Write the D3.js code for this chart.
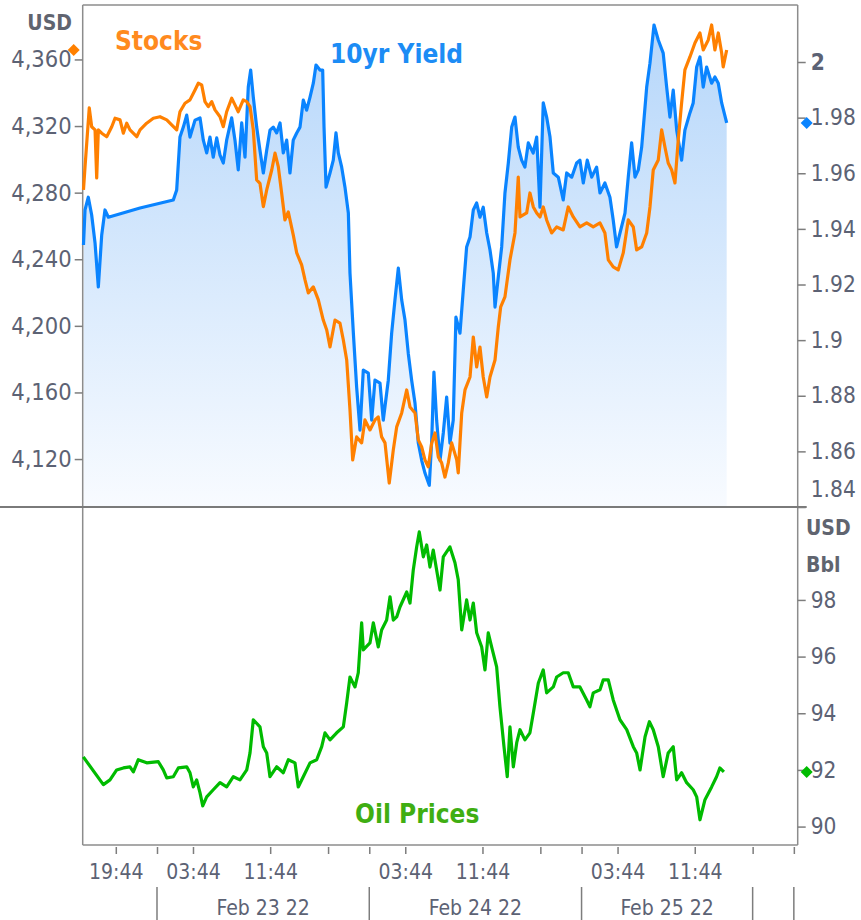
<!DOCTYPE html>
<html>
<head>
<meta charset="utf-8">
<script src="https://cdn.jsdelivr.net/npm/d3@7"></script>
<style>
  body { margin: 0; background: #fff; }
  svg text { font-family: "DejaVu Sans Condensed", "DejaVu Sans", sans-serif; font-stretch: condensed; }
</style>
</head>
<body>
<div id="chart"></div>
<script>
// time is in session hours since Feb 22 00:00 (the daily 16:00-18:00 break is left out)
var stockSeries = [[14.38,4281.6],[14.54,4295.4],[14.98,4330.9],[15.23,4319.6],[15.58,4317.7],[15.75,4288.8],[15.92,4317.7],[16.27,4315.7],[16.79,4313.6],[17.31,4319.6],[17.65,4324.7],[18.17,4323.7],[18.51,4315.7],[18.86,4321.7],[19.2,4317.7],[19.9,4313.6],[20.24,4317.7],[20.93,4321.7],[21.62,4324.7],[22.31,4325.6],[23.01,4323.7],[23.52,4320.7],[24.04,4317.7],[24.38,4328.6],[24.9,4333.7],[25.42,4335.7],[25.94,4341.7],[26.28,4345.7],[26.63,4344.7],[26.97,4334.7],[27.32,4331.7],[27.67,4334.7],[28.01,4329.7],[28.53,4325.6],[28.87,4319.6],[29.22,4328.6],[29.74,4336.7],[30.08,4332.7],[30.42,4328.6],[30.94,4335.7],[31.3,4334.7],[31.64,4331.7],[31.98,4317.7],[32.33,4287.6],[32.67,4285.6],[33.02,4271.6],[33.37,4281.6],[33.89,4293.6],[34.23,4303.7],[34.57,4295.6],[34.92,4279.6],[35.26,4263.6],[35.61,4268.4],[36.12,4254.6],[36.48,4243.8],[36.99,4236.6],[37.34,4227.6],[37.68,4219.8],[38.2,4223.4],[38.72,4215.6],[39.23,4203.5],[39.59,4197.5],[39.93,4187.3],[40.45,4203.5],[40.96,4201.7],[41.31,4191.5],[41.66,4179.5],[42.0,4149.5],[42.28,4119.5],[42.69,4133.3],[43.21,4129.7],[43.55,4143.5],[44.07,4137.5],[44.59,4143.5],[44.93,4145.3],[45.28,4133.3],[45.63,4129.7],[46.07,4105.6],[46.49,4125.5],[46.84,4139.3],[47.36,4147.7],[47.88,4161.5],[48.22,4151.3],[48.74,4147.7],[49.08,4131.5],[49.43,4127.3],[49.77,4119.5],[50.11,4115.3],[50.47,4129.7],[50.81,4135.7],[51.15,4121.3],[51.5,4117.7],[51.84,4109.2],[52.19,4117.7],[52.54,4129.7],[53.06,4119.5],[53.22,4111.7],[53.58,4147.7],[53.92,4161.5],[54.44,4169.3],[54.78,4193.3],[55.13,4175.3],[55.47,4187.3],[55.81,4169.3],[56.17,4157.3],[56.51,4169.3],[57.03,4179.5],[57.37,4199.3],[57.62,4211.4],[58.06,4217.4],[58.58,4239.6],[59.1,4255.8],[59.44,4289.4],[59.62,4265.4],[60.31,4267.8],[60.65,4279.8],[61.0,4271.4],[61.35,4267.8],[61.69,4265.4],[62.03,4271.4],[62.38,4263.6],[62.9,4255.8],[63.42,4259.4],[64.1,4257.6],[64.62,4271.4],[65.14,4265.4],[65.83,4259.4],[66.53,4261.8],[67.21,4259.4],[67.91,4261.8],[68.42,4255.8],[68.77,4239.6],[69.28,4235.4],[69.8,4233.6],[70.32,4243.8],[70.84,4263.6],[71.36,4259.4],[71.71,4245.6],[72.23,4247.4],[72.75,4255.8],[73.09,4271.4],[73.43,4293.6],[73.95,4299.6],[74.3,4317.7],[74.64,4307.4],[74.98,4297.8],[75.34,4293.6],[75.68,4285.8],[76.02,4311.7],[76.37,4333.9],[76.71,4353.7],[77.23,4361.5],[77.75,4369.9],[78.27,4375.9],[78.61,4365.7],[79.13,4371.7],[79.48,4380.7],[79.82,4365.7],[80.17,4375.9],[80.52,4363.9],[80.68,4355.5],[81.04,4365.7]];

var yieldSeries = [[14.38,1.9342],[14.54,1.9468],[14.88,1.9514],[15.23,1.945],[15.58,1.9349],[15.92,1.9191],[16.27,1.9378],[16.61,1.9468],[16.96,1.9442],[20.24,1.9475],[23.69,1.9504],[24.04,1.954],[24.38,1.973],[24.73,1.9766],[25.08,1.9809],[25.42,1.973],[25.94,1.9791],[26.46,1.9799],[26.8,1.9719],[27.15,1.9673],[27.49,1.973],[27.83,1.9658],[28.19,1.9727],[28.53,1.9665],[28.87,1.9637],[29.22,1.9719],[29.74,1.9799],[30.08,1.9719],[30.42,1.9612],[30.78,1.9781],[31.12,1.9658],[31.46,1.991],[31.71,1.9971],[31.98,1.9874],[32.33,1.9766],[32.67,1.9683],[33.02,1.9601],[33.37,1.9683],[33.71,1.9755],[34.05,1.9766],[34.4,1.9745],[34.75,1.9781],[35.09,1.9673],[35.44,1.9719],[35.78,1.9601],[36.12,1.9719],[36.48,1.9745],[36.82,1.9766],[37.16,1.9863],[37.51,1.9827],[37.86,1.9874],[38.2,1.9924],[38.48,1.9989],[38.89,1.9971],[39.17,1.9971],[39.31,1.9766],[39.52,1.955],[39.93,1.9601],[40.27,1.9647],[40.55,1.9745],[40.79,1.9673],[41.14,1.9622],[41.48,1.955],[41.83,1.9457],[42.0,1.9241],[42.35,1.9025],[42.69,1.8831],[43.04,1.8676],[43.38,1.8892],[43.9,1.8881],[44.25,1.8712],[44.59,1.8856],[45.11,1.8845],[45.45,1.8712],[45.97,1.8856],[46.32,1.9025],[46.66,1.9144],[47.01,1.9259],[47.36,1.9144],[47.7,1.9072],[48.04,1.8953],[48.39,1.8856],[48.74,1.8773],[49.08,1.863],[49.43,1.8568],[49.77,1.8522],[50.22,1.8478],[50.47,1.864],[50.7,1.8885],[50.98,1.8712],[51.33,1.8568],[51.67,1.8666],[52.02,1.8795],[52.36,1.863],[52.7,1.8712],[52.98,1.9083],[53.4,1.9025],[53.74,1.918],[54.09,1.9335],[54.44,1.9371],[54.78,1.9468],[55.13,1.9493],[55.47,1.9442],[55.81,1.9478],[56.17,1.9385],[56.51,1.9324],[56.85,1.9241],[57.03,1.9119],[57.37,1.9227],[57.72,1.9335],[58.06,1.9529],[58.41,1.9637],[58.76,1.9766],[59.1,1.9802],[59.44,1.9694],[59.79,1.9647],[60.13,1.9622],[60.48,1.9709],[60.99,1.9673],[61.35,1.973],[61.69,1.9478],[62.03,1.9853],[62.38,1.9802],[62.73,1.973],[63.07,1.9601],[63.59,1.9586],[64.1,1.9504],[64.46,1.9601],[64.98,1.9586],[65.49,1.9637],[65.83,1.9647],[66.18,1.9565],[66.59,1.9647],[67.05,1.9586],[67.56,1.9622],[67.91,1.9529],[68.42,1.9565],[68.94,1.9514],[69.28,1.9432],[69.63,1.9335],[69.98,1.9385],[70.5,1.9457],[70.84,1.9586],[71.19,1.9709],[71.54,1.9586],[71.88,1.9612],[72.23,1.9694],[72.75,1.991],[73.09,1.9996],[73.51,2.0133],[73.95,2.0079],[74.46,2.0032],[74.82,1.991],[75.16,1.9802],[75.5,1.9899],[75.86,1.9755],[76.37,1.9647],[76.71,1.9755],[77.23,1.9817],[77.57,1.9853],[77.93,1.9982],[78.27,2.0018],[78.61,1.991],[78.96,1.9982],[79.48,1.9924],[79.82,1.9946],[80.17,1.9924],[80.52,1.9853],[81.04,1.9781]];

var oilSeries = [[14.36,92.46],[16.44,91.48],[17.13,91.65],[17.82,92.0],[18.51,92.07],[19.2,92.11],[19.55,91.93],[20.06,92.36],[20.93,92.25],[22.14,92.29],[22.65,92.0],[23.01,91.72],[23.69,91.76],[24.21,92.07],[25.08,92.11],[25.42,91.9],[25.76,91.4],[26.11,91.65],[26.46,91.19],[26.74,90.73],[27.15,91.05],[27.83,91.3],[28.53,91.55],[29.22,91.4],[29.91,91.76],[30.6,91.65],[31.3,92.0],[31.64,92.6],[31.98,93.77],[32.67,93.52],[33.02,92.82],[33.37,92.6],[33.71,91.76],[34.4,92.11],[35.09,91.9],[35.61,92.36],[36.3,92.25],[36.64,91.4],[37.16,91.76],[37.86,92.25],[38.55,92.36],[39.07,92.82],[39.41,93.31],[39.93,93.06],[40.62,93.31],[41.31,93.52],[41.66,94.37],[42.0,95.28],[42.52,94.93],[42.86,95.43],[43.04,96.34],[43.21,97.19],[43.38,96.24],[44.07,96.48],[44.42,97.19],[44.93,96.34],[45.28,96.94],[45.8,97.29],[46.15,98.11],[46.49,97.29],[46.84,97.4],[47.18,97.75],[47.88,98.28],[48.22,97.89],[48.56,99.06],[48.91,99.87],[49.18,100.4],[49.6,99.52],[49.95,99.94],[50.29,99.16],[50.63,99.76],[50.98,99.06],[51.33,98.35],[51.67,99.52],[52.36,99.87],[52.88,99.31],[53.22,98.71],[53.58,96.94],[54.09,98.0],[54.44,97.29],[54.78,97.89],[55.13,96.84],[55.65,96.34],[55.99,95.53],[56.33,96.84],[56.68,96.34],[57.2,95.64],[57.54,94.23],[57.96,92.82],[58.3,91.76],[58.58,93.52],[58.93,92.11],[59.28,92.96],[59.62,93.42],[60.13,93.06],[60.65,93.31],[61.0,94.01],[61.52,95.07],[62.03,95.53],[62.38,94.72],[63.07,94.93],[63.42,95.28],[64.1,95.43],[64.62,95.43],[65.14,94.93],[65.83,94.93],[66.53,94.47],[66.87,94.23],[67.21,94.72],[67.91,94.83],[68.25,95.18],[68.77,95.18],[69.28,94.47],[69.98,93.77],[70.68,93.42],[71.36,92.82],[71.71,92.6],[72.06,92.0],[72.58,93.17],[73.03,93.7],[73.43,93.42],[73.95,92.82],[74.46,91.76],[74.98,92.6],[75.5,92.82],[75.86,91.65],[76.37,91.9],[76.89,91.55],[77.57,91.3],[77.93,91.05],[78.27,90.24],[78.79,90.95],[79.48,91.4],[79.99,91.76],[80.33,92.07],[80.75,91.93]];

var stockTicks = [4120, 4160, 4200, 4240, 4280, 4320, 4360];
var yieldTicks = [1.84, 1.86, 1.88, 1.9, 1.92, 1.94, 1.96, 1.98, 2];
var oilTicks = [90, 92, 94, 96, 98];
var timeTicks = [17.73, 22, 25.73, 33.73, 39.73, 44, 47.73, 55.73, 61.73, 66, 69.73, 77.73, 83.73, 88];
var timeTickLabels = ["19:44", "", "03:44", "11:44", "", "", "03:44", "11:44", "", "", "03:44", "11:44", "", ""];
var dayBreaks = [22, 44, 66, 83.73, 88];
var dayLabels = ["Feb 23 22", "Feb 24 22", "Feb 25 22"];

var width = 861, height = 920;
var plotL = 82.7, plotR = 797.7, plotT = 5, plotMid = 507, plotB = 845;

var svg = d3.select("#chart").append("svg")
  .attr("width", width)
  .attr("height", height);

var x = d3.scaleLinear().domain([14.3, 88.4]).range([plotL, plotR]);
var yStock = d3.scaleLinear().domain([4091.2, 4392.7]).range([plotMid, plotT]);
var yYield = d3.scaleLinear().domain([1.84, 2.0205]).range([plotMid, plotT]);
var yOil = d3.scaleLinear().domain([89.35, 101.28]).range([plotB, plotMid]);

// gradient under the yield line
var grad = svg.append("defs").append("linearGradient")
  .attr("id", "yieldFill")
  .attr("gradientUnits", "userSpaceOnUse")
  .attr("x1", 0).attr("x2", 0)
  .attr("y1", plotT).attr("y2", plotMid);
grad.append("stop").attr("offset", 0).attr("stop-color", "#b3d5fa");
grad.append("stop").attr("offset", 1).attr("stop-color", "#f8fbff");

svg.append("path")
  .datum(yieldSeries)
  .attr("fill", "url(#yieldFill)")
  .attr("d", d3.area().x(function(d){ return x(d[0]); }).y0(plotMid).y1(function(d){ return yYield(d[1]); }));

// frame
var frameColor = "#8c8c8c";
svg.append("line").attr("x1", plotL).attr("x2", plotR).attr("y1", plotT).attr("y2", plotT)
  .attr("stroke", frameColor).attr("stroke-width", 1.5);
svg.append("line").attr("x1", plotL).attr("x2", plotL).attr("y1", plotT).attr("y2", plotB)
  .attr("stroke", frameColor).attr("stroke-width", 1.5);
svg.append("line").attr("x1", plotR).attr("x2", plotR).attr("y1", plotT).attr("y2", plotB)
  .attr("stroke", frameColor).attr("stroke-width", 1.5);
svg.append("line").attr("x1", plotL).attr("x2", plotR).attr("y1", plotB).attr("y2", plotB)
  .attr("stroke", frameColor).attr("stroke-width", 1.5);
svg.append("line").attr("x1", 0).attr("x2", plotR + 9).attr("y1", plotMid).attr("y2", plotMid)
  .attr("stroke", "#7a7a7a").attr("stroke-width", 2);

// lines
svg.append("path")
  .datum(yieldSeries)
  .attr("fill", "none")
  .attr("stroke", "#0a84ff")
  .attr("stroke-width", 3.2)
  .attr("stroke-linejoin", "round")
  .attr("d", d3.line().x(function(d){ return x(d[0]); }).y(function(d){ return yYield(d[1]); }));

svg.append("path")
  .datum(stockSeries)
  .attr("fill", "none")
  .attr("stroke", "#ff8000")
  .attr("stroke-width", 3.2)
  .attr("stroke-linejoin", "round")
  .attr("d", d3.line().x(function(d){ return x(d[0]); }).y(function(d){ return yStock(d[1]); }));

svg.append("path")
  .datum(oilSeries)
  .attr("fill", "none")
  .attr("stroke", "#00bb00")
  .attr("stroke-width", 3.2)
  .attr("stroke-linejoin", "round")
  .attr("d", d3.line().x(function(d){ return x(d[0]); }).y(function(d){ return yOil(d[1]); }));

// axes
var textColor = "#5c6274";
function styleAxis(g, size) {
  g.select(".domain").remove();
  g.selectAll(".tick line").attr("stroke", "#7d7d7d").attr("stroke-width", 1.5);
  g.selectAll(".tick text").attr("fill", textColor).style("font-size", size + "px");
}

svg.append("g")
  .attr("transform", "translate(" + plotL + ",0)")
  .call(d3.axisLeft(yStock).tickValues(stockTicks).tickSize(8).tickPadding(3).tickFormat(d3.format(",")))
  .call(styleAxis, 23.5);

var yieldAxis = svg.append("g")
  .attr("transform", "translate(" + plotR + ",0)")
  .call(d3.axisRight(yYield).tickValues(yieldTicks).tickSize(8).tickPadding(5).tickFormat(d3.format(".2~f")))
  .call(styleAxis, 22.5);
yieldAxis.selectAll(".tick text")
  .filter(function(d){ return d === 2; })
  .style("font-weight", "bold");
yieldAxis.selectAll(".tick text")
  .filter(function(d){ return d === 1.84; })
  .attr("dy", "-0.45em");

svg.append("g")
  .attr("transform", "translate(" + plotR + ",0)")
  .call(d3.axisRight(yOil).tickValues(oilTicks).tickSize(8).tickPadding(5))
  .call(styleAxis, 22.5);

svg.append("g")
  .attr("transform", "translate(0," + (plotB + 2) + ")")
  .call(d3.axisBottom(x).tickValues(timeTicks).tickSize(7).tickPadding(10)
    .tickFormat(function(d, i){ return timeTickLabels[i]; }))
  .call(styleAxis, 21);

// day row
svg.selectAll(".daybreak")
  .data(dayBreaks)
  .enter().append("line")
    .attr("class", "daybreak")
    .attr("x1", function(d){ return x(d); })
    .attr("x2", function(d){ return x(d); })
    .attr("y1", 887).attr("y2", height)
    .attr("stroke", "#7d7d7d").attr("stroke-width", 1.5);

svg.selectAll(".daylabel")
  .data(dayLabels)
  .enter().append("text")
    .attr("class", "daylabel")
    .attr("x", function(d, i){ return (x(dayBreaks[i]) + x(dayBreaks[i + 1])) / 2; })
    .attr("y", 915)
    .attr("text-anchor", "middle")
    .attr("fill", textColor)
    .style("font-size", "21px")
    .text(function(d){ return d; });

// last value markers
var diamond = d3.symbol().type(d3.symbolSquare).size(72);
var lastStock = stockSeries[stockSeries.length - 1][1];
var lastYield = yieldSeries[yieldSeries.length - 1][1];
var lastOil = oilSeries[oilSeries.length - 1][1];
svg.append("path").attr("d", diamond)
  .attr("transform", "translate(" + (plotL - 9) + "," + yStock(lastStock) + ") rotate(45)")
  .attr("fill", "#ff8000");
svg.append("path").attr("d", diamond)
  .attr("transform", "translate(" + (plotR + 9) + "," + yYield(lastYield) + ") rotate(45)")
  .attr("fill", "#0a84ff");
svg.append("path").attr("d", diamond)
  .attr("transform", "translate(" + (plotR + 9) + "," + yOil(lastOil) + ") rotate(45)")
  .attr("fill", "#00bb00");

// unit labels
svg.append("text").attr("x", 72).attr("y", 30).attr("text-anchor", "end")
  .attr("fill", "#60646f").style("font-size", "21px").style("font-weight", "bold").text("USD");
svg.append("text").attr("x", 806).attr("y", 535)
  .attr("fill", "#60646f").style("font-size", "21px").style("font-weight", "bold").text("USD");
svg.append("text").attr("x", 806).attr("y", 572)
  .attr("fill", "#60646f").style("font-size", "21px").style("font-weight", "bold").text("Bbl");

// series titles
svg.append("text").attr("x", 115).attr("y", 50)
  .attr("fill", "#ff8a1e").style("font-size", "26px").style("font-weight", "bold").text("Stocks");
svg.append("text").attr("x", 330).attr("y", 63)
  .attr("fill", "#1c8cf5").style("font-size", "26px").style("font-weight", "bold").text("10yr Yield");
svg.append("text").attr("x", 355).attr("y", 823)
  .attr("fill", "#3fae12").style("font-size", "26px").style("font-weight", "bold").text("Oil Prices");
</script>
</body>
</html>
